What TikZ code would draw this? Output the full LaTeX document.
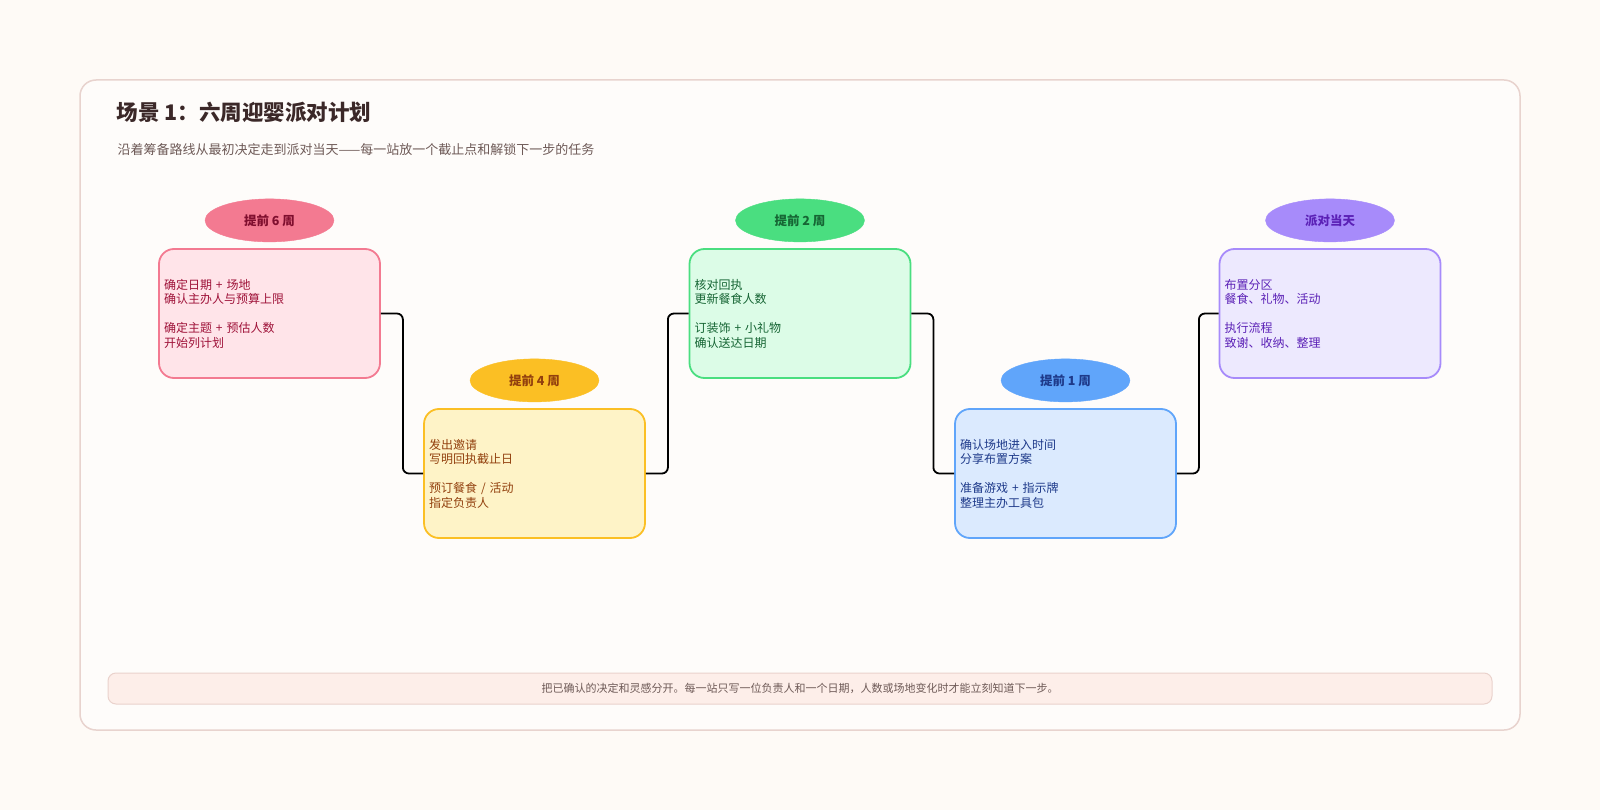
\documentclass[tikz,border=0pt]{standalone}
\usepackage{fontspec}
\setmainfont{Noto Sans CJK SC}
\usetikzlibrary{shapes.geometric,positioning}
\definecolor{bgcream}{HTML}{FEFAF6}
\definecolor{framec}{HTML}{E8D3CE}
\definecolor{titlec}{HTML}{3B2828}
\definecolor{subc}{HTML}{6E5A57}
\definecolor{noteF}{HTML}{FDEEE9}
\definecolor{noteD}{HTML}{EAD2CC}
\definecolor{roseD}{HTML}{F37A91}
\definecolor{roseF}{HTML}{FFE4E9}
\definecolor{roseT}{HTML}{9F1239}
\definecolor{amberD}{HTML}{FBBF24}
\definecolor{amberF}{HTML}{FEF3C7}
\definecolor{amberT}{HTML}{92400E}
\definecolor{greenD}{HTML}{4ADE80}
\definecolor{greenF}{HTML}{DCFCE7}
\definecolor{greenT}{HTML}{166534}
\definecolor{blueD}{HTML}{60A5FA}
\definecolor{blueF}{HTML}{DBEAFE}
\definecolor{blueT}{HTML}{1E3A8A}
\definecolor{violetD}{HTML}{A78BFA}
\definecolor{violetF}{HTML}{EDE9FE}
\definecolor{violetT}{HTML}{5B21B6}

\begin{document}
\begin{tikzpicture}[
x=1pt,y=-1pt,
card/.style={draw,rounded corners=15pt,line width=1.8pt,minimum width=221pt,minimum height=129pt,
  text width=211pt,inner xsep=5pt,align=left,font=\fontsize{12}{14.5}\selectfont},
tag/.style={ellipse,minimum width=129pt,minimum height=43pt,inner sep=0pt,font=\bfseries\fontsize{12.5}{14}\selectfont},
link/.style={line width=1.8pt,rounded corners=6pt},
]
\useasboundingbox[fill=bgcream] (0,0) rectangle (1600,810);
\draw[framec,line width=1.5pt,fill=bgcream!60!white,rounded corners=16pt] (80,80) rectangle (1520,730);
\node[anchor=west,text=titlec,font=\bfseries\fontsize{21.5}{25}\selectfont] (title) at (113,112) {场景 1：六周迎婴派对计划};
\node[anchor=west,text=subc,font=\fontsize{13}{15}\selectfont] (sub) at (114,150) {沿着筹备路线从最初决定走到派对当天——每一站放一个截止点和解锁下一步的任务};
% stations
\node[card,draw=roseD,fill=roseF,text=roseT] (b1) at (269.5,313.5) {确定日期 + 场地\\确认主办人与预算上限\\[14.5pt]确定主题 + 预估人数\\开始列计划};
\node[tag,draw=roseD,fill=roseD,text=roseT!80!black,above=6pt of b1] (t1) {提前 6 周};
\node[card,draw=amberD,fill=amberF,text=amberT] (b2) at (534.5,473.5) {发出邀请\\写明回执截止日\\[14.5pt]预订餐食 / 活动\\指定负责人};
\node[tag,draw=amberD,fill=amberD,text=amberT,above=6pt of b2] (t2) {提前 4 周};
\node[card,draw=greenD,fill=greenF,text=greenT] (b3) at (800,313.5) {核对回执\\更新餐食人数\\[14.5pt]订装饰 + 小礼物\\确认送达日期};
\node[tag,draw=greenD,fill=greenD,text=greenT,above=6pt of b3] (t3) {提前 2 周};
\node[card,draw=blueD,fill=blueF,text=blueT] (b4) at (1065.5,473.5) {确认场地进入时间\\分享布置方案\\[14.5pt]准备游戏 + 指示牌\\整理主办工具包};
\node[tag,draw=blueD,fill=blueD,text=blueT,above=6pt of b4] (t4) {提前 1 周};
\node[card,draw=violetD,fill=violetF,text=violetT] (b5) at (1330,313.5) {布置分区\\餐食、礼物、活动\\[14.5pt]执行流程\\致谢、收纳、整理};
\node[tag,draw=violetD,fill=violetD,text=violetT,above=6pt of b5] (t5) {派对当天};
% route
\draw[link] (b1.east) -- ++(22,0) |- (b2.west);
\draw[link] (b2.east) -- ++(22,0) |- (b3.west);
\draw[link] (b3.east) -- ++(22,0) |- (b4.west);
\draw[link] (b4.east) -- ++(22,0) |- (b5.west);
% note
\node[draw=noteD,fill=noteF,line width=1pt,rounded corners=8pt,minimum width=1384pt,minimum height=31pt,
  text=subc,font=\fontsize{11}{13}\selectfont] (note) at (800,688.5) {把已确认的决定和灵感分开。每一站只写一位负责人和一个日期，人数或场地变化时才能立刻知道下一步。};
\end{tikzpicture}
\end{document}
